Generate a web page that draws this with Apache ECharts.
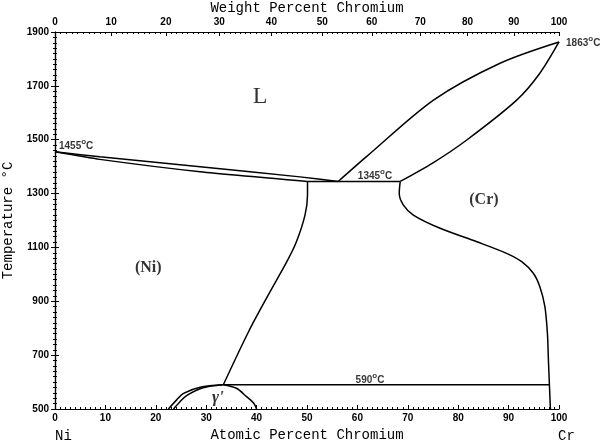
<!DOCTYPE html>
<html><head><meta charset="utf-8">
<script src="https://cdn.jsdelivr.net/npm/echarts@6/dist/echarts.min.js"></script>
<style>html,body{margin:0;padding:0;background:#fff}#c{width:600px;height:443px}</style>
</head><body><div id="c"></div>
<script>
// ---- data (x = atomic % Cr, y = temperature °C) ----
const niLiquidus = [[0,1455],[8.9,1437],[28.8,1400],[48.6,1362],[56.2,1345]];
const niSolidus  = [[0,1455],[8.9,1427],[28.8,1381],[50.1,1345]];
const crLiquidus = [[56.2,1345],[61.8,1437],[75.1,1647],[88.3,1784],[100,1863]];
const crSolidus  = [[68.5,1345],[75,1414],[81.7,1499],[91.6,1647],[96.2,1747],[100,1863]];
const eutectic1345 = [[50.1,1345],[68.5,1345]];
const niSolvus = [[50.1,1345],[50.1,1295],[49.6,1220],[47.9,1121],[46.0,1047],[42.3,923],[38.4,787],[33.4,590]];
const crSolvus = [[68.5,1345],[68.3,1301],[69.1,1258],[71.1,1220],[76.4,1171],[83.7,1121],[89.6,1078],[92.6,1047],[94.9,1004],[96.2,954],[97.2,880],[97.7,781],[97.9,682],[98.1,589],[98.3,500]];
const eutectoid590 = [[33.4,590],[98.1,590]];
const gammaOuter = [[22.5,500],[24.1,533],[25.5,558],[28.8,581],[33.3,590]];
const gammaInner = [[23.5,500],[24.8,527],[26.1,550],[29.4,579],[33.3,590]];
const gammaRight = [[33.3,590],[36.0,577],[38.0,546],[39.4,522],[40.0,500]];

const weightTicks = [0,10,20,30,40,50,60,70,80,90,100];

const labelTexts = ['1455{s|o}C','1345{s|o}C','1863{s|o}C','590{s|o}C'];
const labelPos   = [[4.2,1477],[63.5,1365],[104.8,1859],[62.5,608]];
const regionTexts = ['L','(Ni)','(Cr)'];
const regionPos   = [[40.7,1659],[18.5,1024],[85.1,1276]];
const gammaText = "γ'";
const gammaPos = [32.3,541];

// ---- weight% -> atomic% conversion (Cr 52.00, Ni 58.69) ----
const M_CR = 52.00, M_NI = 58.69;
function wtToAt(w){ const a=w/M_CR, b=(100-w)/M_NI; return a/(a+b)*100; }
function atToWt(x){ const a=x*M_CR, b=(100-x)*M_NI; return a/(a+b)*100; }
const weightMajor = weightTicks.map(wtToAt);
const weightMinor = [];
for (let w=0; w<=100; w++){ if (w%10!==0) weightMinor.push(wtToAt(w)); }

const tickFont = {fontFamily:'Liberation Sans', fontWeight:'bold', fontSize:10, color:'#000'};
const mono = 'Liberation Mono';
const lineStyle = {color:'#000', width:1.5};

function curve(data, smooth){
  return {type:'line', data, showSymbol:false, smooth:smooth, lineStyle, silent:true, animation:false, z:3};
}

const chart = echarts.init(document.getElementById('c'), null, {renderer:'canvas'});
chart.setOption({
  backgroundColor:'#fff',
  animation:false,
  grid:{left:55, right:41, top:32, bottom:34, containLabel:false, outerBoundsMode:'none'},
  xAxis:[
    {type:'value', min:0, max:100, interval:10, position:'bottom',
     name:'Atomic Percent Chromium', nameLocation:'middle', nameGap:19, nameMoveOverlap:false,
     nameTextStyle:{fontFamily:mono, fontSize:14, color:'#000'},
     axisLine:{lineStyle:{color:'#000', width:1.2}},
     axisTick:{inside:true, length:4, lineStyle:{color:'#000'}},
     minorTick:{show:true, splitNumber:10, length:2, lineStyle:{color:'#000'}},
     axisLabel:Object.assign({margin:4, formatter:v=>String(v)}, tickFont),
     splitLine:{show:false}},
    {type:'value', min:0, max:100, position:'top',
     name:'Weight Percent Chromium', nameLocation:'middle', nameGap:17, nameMoveOverlap:false,
     nameTextStyle:{fontFamily:mono, fontSize:14, color:'#000'},
     axisLine:{lineStyle:{color:'#000', width:1.2}},
     axisTick:{inside:true, length:4, customValues:weightMajor, lineStyle:{color:'#000'}},
     axisLabel:Object.assign({margin:5, customValues:weightMajor,
        formatter:v=>String(Math.round(atToWt(v)))}, tickFont),
     splitLine:{show:false}},
    {type:'value', min:0, max:100, position:'top',
     axisLine:{show:false},
     axisTick:{inside:true, length:2, customValues:weightMinor, lineStyle:{color:'#000'}},
     axisLabel:{show:false}, splitLine:{show:false}}
  ],
  yAxis:[
    {type:'value', min:500, max:1900, interval:200, position:'left',
     name:'Temperature °C', nameLocation:'middle', nameGap:40, nameMoveOverlap:false,
     nameTextStyle:{fontFamily:mono, fontSize:14, color:'#000'},
     axisLine:{show:true, lineStyle:{color:'#000', width:1.2}},
     axisTick:{show:true, length:4, lineStyle:{color:'#000'}},
     minorTick:{show:true, splitNumber:10, length:2, lineStyle:{color:'#000'}},
     axisLabel:Object.assign({margin:6, formatter:v=>String(v)}, tickFont),
     splitLine:{show:false}},
    {type:'value', min:500, max:1900, interval:200, position:'right',
     axisLine:{show:true, lineStyle:{color:'#000', width:1.2}},
     axisTick:{show:true, length:4, lineStyle:{color:'#000'}},
     minorTick:{show:true, splitNumber:10, length:2, lineStyle:{color:'#000'}},
     axisLabel:{show:false}, splitLine:{show:false}}
  ],
  series:[
    curve(niLiquidus, 0.2),
    curve(niSolidus, 0.2),
    curve(crLiquidus, 0.3),
    curve(crSolidus, 0.3),
    curve(eutectic1345, false),
    curve(niSolvus, 0.3),
    curve(crSolvus, 0.3),
    curve(eutectoid590, false),
    curve(gammaOuter, 0.3),
    curve(gammaInner, 0.3),
    curve(gammaRight, 0.3),
    {type:'scatter', clip:false, symbolSize:1, itemStyle:{color:'rgba(0,0,0,0)'}, silent:true, z:5,
     data: labelTexts.map((t,i)=>({value:labelPos[i], name:t})),
     label:{show:true, position:'inside', formatter:p=>p.name, textBorderWidth:0,
       rich:{
         s:{fontSize:8, fontWeight:'bold', fontFamily:'Liberation Sans', color:'#000',
            verticalAlign:'bottom', padding:[0,0,5,0], lineHeight:8, textBorderWidth:0}
       },
       fontFamily:'Liberation Sans', fontWeight:'bold', fontSize:10, color:'#000'}},
    {type:'scatter', clip:false, symbolSize:1, itemStyle:{color:'rgba(0,0,0,0)'}, silent:true, z:5,
     data: regionTexts.map((t,i)=>({value:regionPos[i], name:t,
        label: i===0 ? {fontSize:24} : {fontSize:16, fontWeight:'bold'}})),
     label:{show:true, position:'inside', formatter:p=>p.name, textBorderWidth:0,
       fontFamily:'Liberation Serif', color:'#000'}},
    {type:'scatter', clip:false, symbolSize:1, itemStyle:{color:'rgba(0,0,0,0)'}, silent:true, z:5,
     data:[{value:gammaPos, name:gammaText}],
     label:{show:true, position:'inside', formatter:p=>p.name, textBorderWidth:0,
       fontFamily:'Liberation Serif', fontStyle:'italic', fontWeight:'bold', fontSize:17, color:'#000'}}
  ],
  graphic:[
    {type:'text', left:55, top:429, style:{text:'Ni', fontFamily:mono, fontSize:14, fill:'#000'}},
    {type:'text', left:558, top:429, style:{text:'Cr', fontFamily:mono, fontSize:14, fill:'#000'}}
  ]
});
</script></body></html>
